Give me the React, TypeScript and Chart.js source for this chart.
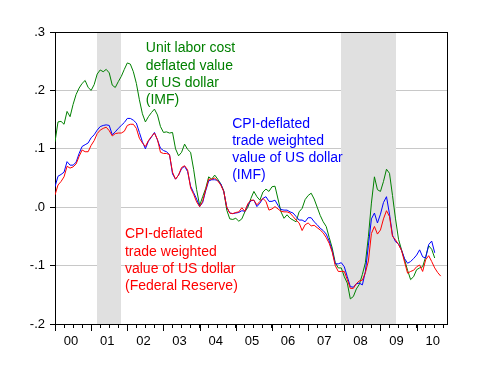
import React, { useEffect, useRef } from 'react';
import { Chart, registerables } from 'chart.js';

Chart.register(...registerables);

// Monthly observations starting January 2000
const START_YEAR = 2000;

// Unit labor cost deflated value of US dollar (IMF), log deviation
const greenULC = [
  0.112, 0.146, 0.147, 0.142, 0.164, 0.155, 0.176, 0.193, 0.204, 0.212,
  0.217, 0.205, 0.200, 0.210, 0.228, 0.235, 0.232, 0.236, 0.230, 0.209,
  0.205, 0.215, 0.224, 0.236, 0.247, 0.245, 0.232, 0.212, 0.184, 0.160,
  0.146, 0.155, 0.162, 0.168, 0.158, 0.138, 0.128, 0.129, 0.127, 0.128,
  0.100, 0.088, 0.094, 0.108, 0.099, 0.094, 0.065, 0.030, 0.003, 0.018,
  0.032, 0.052, 0.048, 0.055, 0.048, 0.040, 0.028, -0.005, -0.020, -0.021,
  -0.019, -0.024, -0.020, -0.008, 0.000, 0.015, 0.027, 0.018, 0.012, 0.026,
  0.031, 0.027, 0.035, 0.036, 0.014, -0.008, -0.019, -0.013, -0.019, -0.022,
  -0.025, -0.008, -0.002, 0.013, 0.020, 0.024, 0.014, 0.000, -0.014, -0.025,
  -0.033, -0.052, -0.070, -0.095, -0.104, -0.104, -0.119, -0.130, -0.157, -0.153,
  -0.140, -0.132, -0.115, -0.095, -0.050, 0.007, 0.052, 0.030, 0.027, 0.044,
  0.065, 0.058, 0.020, -0.020, -0.055, -0.073, -0.090, -0.108, -0.124, -0.119,
  -0.107, -0.104, -0.102, -0.085, -0.066, -0.072, -0.087,
];

// CPI-deflated trade weighted value of US dollar (IMF)
const blueCPIIMF = [
  0.035, 0.053, 0.056, 0.060, 0.078, 0.072, 0.072, 0.077, 0.092, 0.104,
  0.107, 0.110, 0.119, 0.124, 0.132, 0.138, 0.140, 0.141, 0.140, 0.124,
  0.129, 0.135, 0.140, 0.145, 0.152, 0.152, 0.149, 0.144, 0.128, 0.112,
  0.100, 0.113, 0.120, 0.128, 0.115, 0.101, 0.097, 0.095, 0.090, 0.057,
  0.048, 0.055, 0.066, 0.070, 0.061, 0.036, 0.025, 0.014, 0.001, 0.008,
  0.028, 0.045, 0.047, 0.047, 0.046, 0.040, 0.027, 0.000, -0.010, -0.011,
  -0.010, -0.009, -0.006, -0.007, 0.004, 0.011, 0.012, 0.001, 0.007, 0.015,
  0.018, 0.010, 0.010, 0.012, 0.003, -0.004, -0.005, -0.005, -0.008, -0.010,
  -0.016, -0.022, -0.022, -0.025, -0.018, -0.018, -0.025, -0.030, -0.036, -0.040,
  -0.046, -0.058, -0.075, -0.097, -0.097, -0.095, -0.102, -0.119, -0.136, -0.137,
  -0.131, -0.130, -0.133, -0.110, -0.065, -0.020, -0.010, -0.027, -0.012, 0.008,
  0.018, -0.012, -0.048, -0.059, -0.063, -0.074, -0.088, -0.096, -0.093, -0.088,
  -0.082, -0.073, -0.085, -0.087, -0.064, -0.058, -0.078,
];

// CPI-deflated trade weighted value of US dollar (Federal Reserve)
const redCPIFed = [
  0.021, 0.038, 0.044, 0.052, 0.070, 0.067, 0.069, 0.074, 0.087, 0.098,
  0.095, 0.095, 0.106, 0.114, 0.126, 0.132, 0.135, 0.137, 0.131, 0.122,
  0.126, 0.127, 0.127, 0.130, 0.140, 0.142, 0.142, 0.135, 0.118, 0.110,
  0.104, 0.114, 0.121, 0.127, 0.116, 0.094, 0.092, 0.092, 0.090, 0.060,
  0.048, 0.055, 0.068, 0.071, 0.064, 0.033, 0.022, 0.009, 0.001, 0.010,
  0.030, 0.048, 0.048, 0.050, 0.045, 0.038, 0.027, 0.000, -0.010, -0.011,
  -0.009, -0.008, -0.001, -0.007, 0.006, 0.012, 0.012, 0.004, 0.010, 0.015,
  0.010, -0.005, -0.003, 0.001, -0.003, -0.007, -0.008, -0.008, -0.010, -0.016,
  -0.022, -0.027, -0.040, -0.030, -0.027, -0.032, -0.031, -0.035, -0.039, -0.044,
  -0.052, -0.062, -0.077, -0.100, -0.110, -0.110, -0.110, -0.124, -0.139, -0.139,
  -0.131, -0.126, -0.125, -0.112, -0.092, -0.045, -0.033, -0.046, -0.039, -0.020,
  -0.006, -0.016, -0.050, -0.056, -0.064, -0.074, -0.094, -0.113, -0.110, -0.108,
  -0.102, -0.099, -0.110, -0.090, -0.083, -0.093, -0.104, -0.112, -0.118,
];

// NBER recessions (start month, end month) as "YYYY-MM"
const recessionStarts = ['2001-03', '2007-12'];
const recessionEnds = ['2001-11', '2009-06'];

// Axis ticks
const yearLabels = ['00', '01', '02', '03', '04', '05', '06', '07', '08', '09', '10'];
const yTickValues = [-0.2, -0.1, 0.0, 0.1, 0.2, 0.3];
const yTickLabels = ['-.2', '-.1', '.0', '.1', '.2', '.3'];

// Text labels placed in the plot
const noteGreen = ['Unit labor cost', 'deflated value', 'of US dollar', '(IMF)'];
const noteBlue = ['CPI-deflated', 'trade weighted', 'value of US dollar', '(IMF)'];
const noteRed = ['CPI-deflated', 'trade weighted', 'value of US dollar', '(Federal Reserve)'];

const FONT = '"Liberation Sans", Arial, Helvetica, sans-serif';

const monthToYear = (s: string) => {
  const [y, m] = s.split('-').map(Number);
  return y + (m - 1) / 12;
};

const toPoints = (arr: number[]) => arr.map((v, i) => ({ x: START_YEAR + i / 12, y: v }));

const notes = [
  { lines: noteGreen, color: '#008000', x: 2002.51, y: 0.2652 },
  { lines: noteBlue, color: '#0000ff', x: 2004.9, y: 0.1361 },
  { lines: noteRed, color: '#ff0000', x: 2001.935, y: -0.0533 },
];

const quarterTicks: number[] = [];
for (let q = 0; q <= 43; q++) quarterTicks.push(START_YEAR + q * 0.25);

const shadingPlugin = {
  id: 'recessionShading',
  beforeDatasetsDraw(chart: any) {
    const { ctx, chartArea, scales } = chart;
    const xs = scales.x;
    ctx.save();
    ctx.fillStyle = '#e0e0e0';
    recessionStarts.forEach((s, i) => {
      const x0 = Math.round(xs.getPixelForValue(monthToYear(s)));
      const x1 = Math.round(xs.getPixelForValue(monthToYear(recessionEnds[i])));
      ctx.fillRect(x0, chartArea.top + 1, x1 - x0, chartArea.bottom - chartArea.top - 1);
    });
    ctx.restore();
  },
};

const majorTickPlugin = {
  id: 'majorTicks',
  afterDraw(chart: any) {
    const { ctx, chartArea, scales } = chart;
    const xs = scales.x;
    ctx.save();
    ctx.strokeStyle = '#000';
    ctx.lineWidth = 1;
    yearLabels.forEach((_, i) => {
      const px = Math.round(xs.getPixelForValue(START_YEAR + i)) + 0.5;
      ctx.beginPath();
      ctx.moveTo(px, chartArea.bottom);
      ctx.lineTo(px, chartArea.bottom + 7);
      ctx.stroke();
    });
    ctx.restore();
  },
};

const notesPlugin = {
  id: 'notes',
  afterDatasetsDraw(chart: any) {
    const { ctx, scales } = chart;
    ctx.save();
    ctx.font = `14px ${FONT}`;
    ctx.textAlign = 'left';
    ctx.textBaseline = 'alphabetic';
    notes.forEach((n) => {
      ctx.fillStyle = n.color;
      const px = scales.x.getPixelForValue(n.x);
      const py = scales.y.getPixelForValue(n.y);
      n.lines.forEach((line, i) => ctx.fillText(line, px, py + i * 17.2));
    });
    ctx.restore();
  },
};

const near = (a: number, b: number) => Math.abs(a - b) < 1e-6;

export default function App() {
  const ref = useRef<HTMLCanvasElement | null>(null);

  useEffect(() => {
    if (!ref.current) return;
    const chart = new Chart(ref.current, {
      type: 'line',
      data: {
        datasets: [
          {
            label: 'CPI-deflated trade weighted value of US dollar (Federal Reserve)',
            data: toPoints(redCPIFed),
            borderColor: '#ff0000',
            borderWidth: 1,
            pointRadius: 0,
            tension: 0,
          },
          {
            label: 'CPI-deflated trade weighted value of US dollar (IMF)',
            data: toPoints(blueCPIIMF),
            borderColor: '#0000ff',
            borderWidth: 1,
            pointRadius: 0,
            tension: 0,
          },
          {
            label: 'Unit labor cost deflated value of US dollar (IMF)',
            data: toPoints(greenULC),
            borderColor: '#008000',
            borderWidth: 1,
            pointRadius: 0,
            tension: 0,
          },
        ],
      },
      options: {
        animation: false,
        responsive: false,
        layout: { padding: { left: 0, top: 32, right: 35, bottom: 20 } },
        plugins: {
          legend: { display: false },
          tooltip: { enabled: false },
        },
        scales: {
          x: {
            type: 'linear',
            min: START_YEAR,
            max: 2010.84,
            afterBuildTicks: (s: any) => {
              s.ticks = quarterTicks.map((v) => ({ value: v }));
            },
            afterFit: (s: any) => {
              s.height = 30;
            },
            grid: {
              drawOnChartArea: false,
              drawTicks: true,
              tickLength: 4,
              tickColor: '#000',
            },
            border: { display: true, color: '#000', width: 1 },
            ticks: {
              autoSkip: false,
              maxRotation: 0,
              minRotation: 0,
              padding: 6,
              labelOffset: -2,
              color: '#000',
              font: { family: FONT, size: 13 },
              callback: (value: any) => {
                const v = Number(value);
                const frac = v - Math.floor(v);
                if (near(frac, 0.5)) return yearLabels[Math.floor(v) - START_YEAR] ?? '';
                return '';
              },
            },
          },
          y: {
            type: 'linear',
            min: -0.2,
            max: 0.3,
            afterBuildTicks: (s: any) => {
              s.ticks = yTickValues.map((v) => ({ value: v }));
            },
            afterFit: (s: any) => {
              s.width = 55;
            },
            grid: {
              color: (ctx: any) => {
                const v = ctx.tick ? ctx.tick.value : 0;
                return near(v, 0.3) || near(v, -0.2) ? '#000' : '#c8c8c8';
              },
              tickColor: '#000',
              tickLength: 5,
            },
            border: { display: true, color: '#000', width: 1 },
            ticks: {
              padding: 5,
              color: '#000',
              font: { family: FONT, size: 13 },
              callback: (value: any) => {
                const idx = yTickValues.findIndex((t) => near(t, Number(value)));
                return idx >= 0 ? yTickLabels[idx] : '';
              },
            },
          },
          y2: {
            type: 'linear',
            position: 'right',
            min: -0.2,
            max: 0.3,
            afterFit: (s: any) => {
              s.width = 0;
            },
            grid: { display: true, drawOnChartArea: false, drawTicks: false },
            border: { display: true, color: '#000', width: 1 },
            ticks: { display: false },
          },
        },
      },
      plugins: [shadingPlugin, majorTickPlugin, notesPlugin],
    } as any);
    return () => chart.destroy();
  }, []);

  return (
    <div style={{ position: 'fixed', left: 0, top: 0, width: 482, height: 374, background: '#fff' }}>
      <canvas ref={ref} width={482} height={374} style={{ display: 'block' }} />
    </div>
  );
}
